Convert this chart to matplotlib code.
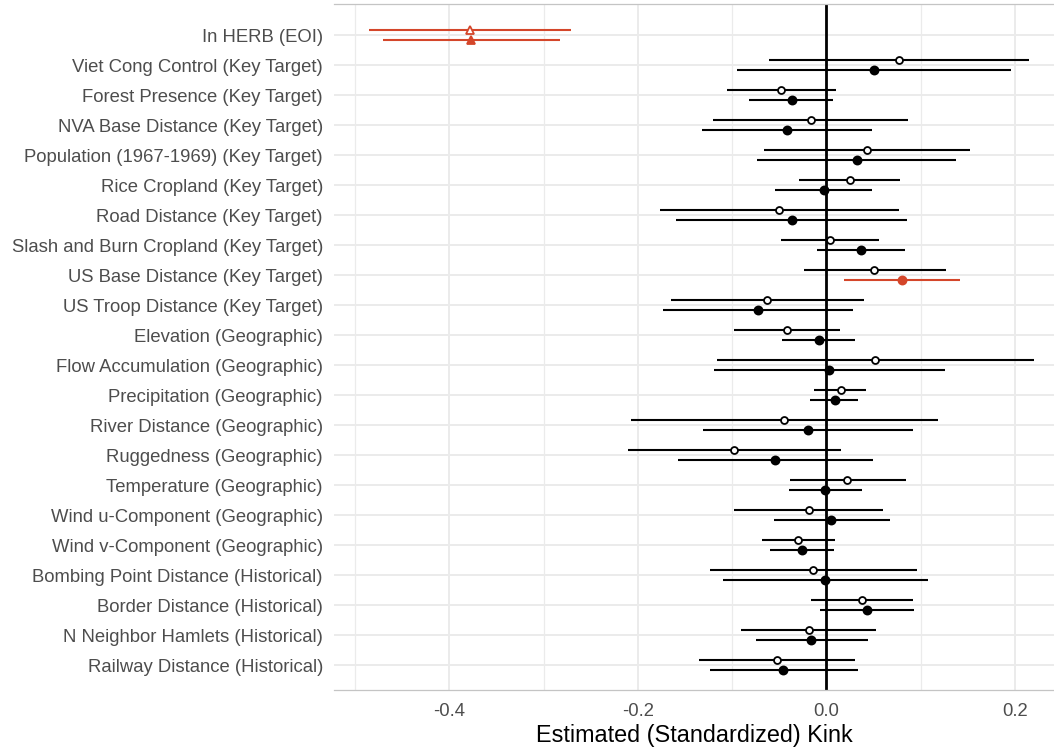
import numpy as np
import matplotlib
matplotlib.use("Agg")
import matplotlib.pyplot as plt

plt.rcParams['font.family'] = ['Liberation Sans', 'DejaVu Sans']

covariates = [
    "In HERB (EOI)",
    "Viet Cong Control (Key Target)",
    "Forest Presence (Key Target)",
    "NVA Base Distance (Key Target)",
    "Population (1967-1969) (Key Target)",
    "Rice Cropland (Key Target)",
    "Road Distance (Key Target)",
    "Slash and Burn Cropland (Key Target)",
    "US Base Distance (Key Target)",
    "US Troop Distance (Key Target)",
    "Elevation (Geographic)",
    "Flow Accumulation (Geographic)",
    "Precipitation (Geographic)",
    "River Distance (Geographic)",
    "Ruggedness (Geographic)",
    "Temperature (Geographic)",
    "Wind u-Component (Geographic)",
    "Wind v-Component (Geographic)",
    "Bombing Point Distance (Historical)",
    "Border Distance (Historical)",
    "N Neighbor Hamlets (Historical)",
    "Railway Distance (Historical)",
]

# open markers (upper row of each pair)
est_open = [-0.378, 0.077, -0.048, -0.016, 0.043, 0.025, -0.050, 0.004, 0.051, -0.063, -0.042,
            0.052, 0.015, -0.045, -0.098, 0.022, -0.019, -0.030, -0.014, 0.038, -0.019, -0.052]
lo_open = [-0.485, -0.061, -0.105, -0.120, -0.066, -0.029, -0.177, -0.048, -0.024, -0.165, -0.098,
           -0.116, -0.013, -0.207, -0.211, -0.039, -0.098, -0.068, -0.123, -0.016, -0.091, -0.135]
hi_open = [-0.271, 0.215, 0.010, 0.087, 0.152, 0.078, 0.077, 0.056, 0.127, 0.040, 0.014,
           0.220, 0.042, 0.118, 0.016, 0.084, 0.060, 0.009, 0.096, 0.092, 0.053, 0.030]

# filled markers (lower row of each pair)
est_fill = [-0.377, 0.051, -0.037, -0.042, 0.032, -0.003, -0.037, 0.037, 0.080, -0.073, -0.008,
            0.003, 0.009, -0.020, -0.055, -0.001, 0.005, -0.026, -0.001, 0.043, -0.016, -0.046]
lo_fill = [-0.471, -0.095, -0.082, -0.132, -0.074, -0.055, -0.160, -0.010, 0.019, -0.173, -0.047,
           -0.119, -0.017, -0.131, -0.158, -0.040, -0.056, -0.060, -0.110, -0.007, -0.075, -0.124]
hi_fill = [-0.283, 0.196, 0.007, 0.048, 0.137, 0.048, 0.085, 0.083, 0.142, 0.028, 0.030,
           0.126, 0.034, 0.092, 0.049, 0.038, 0.068, 0.008, 0.108, 0.093, 0.044, 0.033]

highlight_open = [True] + [False] * 21
highlight_fill = [True] + [False] * 7 + [True] + [False] * 13

RED = "#D4462A"
BLACK = "black"
GRID = "#EBEBEB"


def draw_series(ax, ys, est, lo, hi, flags, filled):
    for i, (y, e, l, h, f) in enumerate(zip(ys, est, lo, hi, flags)):
        col = RED if f else BLACK
        ax.hlines(y, l, h, color=col, lw=1.5, zorder=3)
        if i == 0:
            marker, ms = "^", 6.2
        else:
            marker, ms = "o", (5.8 if filled else 5.0)
        ax.plot(e, y, marker=marker, ms=ms,
                mfc=col if filled else "white", mec=col, mew=1.3, zorder=4)


def main():
    fig = plt.figure(figsize=(10.54, 7.48), dpi=100)
    ax = fig.add_axes([334 / 1054, 58 / 748, 720 / 1054, 686 / 748])

    rows = np.arange(len(covariates))
    offset = 1 / 6

    for r in rows:
        ax.axhline(r, color=GRID, lw=1.4, zorder=0)
    for x in [-0.4, -0.2, 0.0, 0.2]:
        ax.axvline(x, color=GRID, lw=1.4, zorder=0)
    for x in [-0.5, -0.3, -0.1, 0.1]:
        ax.axvline(x, color=GRID, lw=0.9, zorder=0)

    ax.axvline(0, color="black", lw=2.0, zorder=2)

    draw_series(ax, rows - offset, est_open, lo_open, hi_open, highlight_open, False)
    draw_series(ax, rows + offset, est_fill, lo_fill, hi_fill, highlight_fill, True)

    ax.set_xlim(-0.5225, 0.2415)
    ax.set_ylim(21 + 25 / 30, -31 / 30)

    ax.set_yticks(rows)
    ax.set_yticklabels(covariates)
    ax.set_xticks([-0.4, -0.2, 0.0, 0.2])
    ax.set_xticklabels(["-0.4", "-0.2", "0.0", "0.2"])
    ax.tick_params(axis="both", length=0, labelsize=13.3, labelcolor="#4D4D4D")
    ax.tick_params(axis="y", pad=8)
    ax.tick_params(axis="x", pad=9)

    for side in ["left", "right"]:
        ax.spines[side].set_visible(False)
    for side in ["top", "bottom"]:
        ax.spines[side].set_color("#C4C4C4")
        ax.spines[side].set_linewidth(0.9)

    ax.set_xlabel("Estimated (Standardized) Kink", fontsize=16.8, color="black", labelpad=3)

    fig.savefig("out.png", dpi=100)


if __name__ == '__main__':
    main()
